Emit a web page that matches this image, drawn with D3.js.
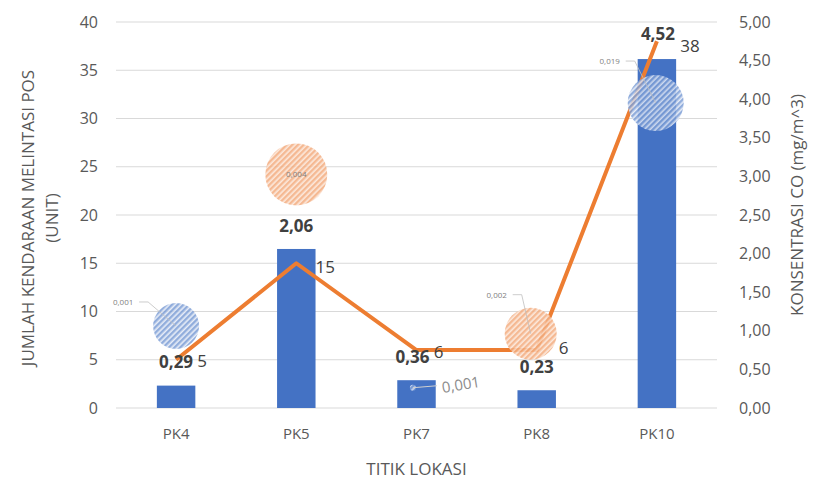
<!DOCTYPE html>
<html>
<head>
<meta charset="utf-8">
<script src="https://cdn.jsdelivr.net/npm/d3@7"></script>
<style>
  body { margin: 0; background: #fff; }
  svg text { font-family: "Open Sans", "Liberation Sans", sans-serif; }
</style>
</head>
<body>
<div id="chart"></div>
<script>
// data
let categories = ["PK4", "PK5", "PK7", "PK8", "PK10"];
let coValues = [0.29, 2.06, 0.36, 0.23, 4.52];        // bars, right axis
let coLabels = ["0,29", "2,06", "0,36", "0,23", "4,52"];
let vehicles = [5, 15, 6, 6, 38];                       // line, left axis
// bubble series (x in category units, y in left axis units)
let bubbleX = [0.0, 1.0, 1.97, 2.95, 3.99];
let bubbleY = [8.5, 24.2, 2.1, 7.7, 31.6];
let bubbleSize = [23, 31, 3, 26, 28];
let bubbleLabels = ["0,001", "0,004", "0,001", "0,002", "0,019"];
let bubbleColor = ["blue", "orange", "blue", "orange", "blue"];
let leftTicks = [0, 5, 10, 15, 20, 25, 30, 35, 40];
let rightTicks = [0, 0.5, 1, 1.5, 2, 2.5, 3, 3.5, 4, 4.5, 5];

let width = 814, height = 482;
let margin = {top: 22, right: 97, bottom: 74, left: 116};

let svg = d3.select("#chart").append("svg")
    .attr("width", width)
    .attr("height", height);

let defs = svg.append("defs");
let makeHatch = (id, bg, stroke) => {
    let p = defs.append("pattern")
        .attr("id", id)
        .attr("patternUnits", "userSpaceOnUse")
        .attr("width", 4)
        .attr("height", 4)
        .attr("patternTransform", "rotate(45)");
    p.append("rect").attr("width", 4).attr("height", 4).attr("fill", bg);
    p.append("rect").attr("width", 2.4).attr("height", 4).attr("fill", stroke);
};
makeHatch("hatch-blue", "#e4eaf6", "#7e9fd6");
makeHatch("hatch-orange", "#fce6d8", "#f3ad80");

let x = d3.scaleBand()
    .domain(categories)
    .range([margin.left, width - margin.right])
    .paddingInner(0.68)
    .paddingOuter(0.34);

let step = x.step();
let xNum = (v) => x(categories[0]) + x.bandwidth() / 2 + v * step;

let yLeft = d3.scaleLinear().domain([0, 40]).range([height - margin.bottom, margin.top]);
let yRight = d3.scaleLinear().domain([0, 5]).range([height - margin.bottom, margin.top]);

// gridlines
svg.append("g")
    .selectAll("line")
    .data(leftTicks)
    .enter().append("line")
    .attr("x1", margin.left)
    .attr("x2", width - margin.right)
    .attr("y1", (d) => yLeft(d))
    .attr("y2", (d) => yLeft(d))
    .attr("stroke", "#d9d9d9")
    .attr("stroke-width", 1);

// left axis
let leftAxis = svg.append("g")
    .attr("transform", "translate(" + margin.left + ",0)")
    .call(d3.axisLeft(yLeft).tickValues(leftTicks).tickSize(0).tickPadding(18));
leftAxis.select(".domain").remove();
leftAxis.selectAll("text").attr("fill", "#595959").style("font-size", "16px");

// right axis
let rightAxis = svg.append("g")
    .attr("transform", "translate(" + (width - margin.right) + ",0)")
    .call(d3.axisRight(yRight).tickValues(rightTicks).tickSize(0).tickPadding(22)
        .tickFormat((d) => d3.format(".2f")(d).replace(".", ",")));
rightAxis.select(".domain").remove();
rightAxis.selectAll("text").attr("fill", "#595959").style("font-size", "16px");

// bottom axis
let bottomAxis = svg.append("g")
    .attr("transform", "translate(0," + (height - margin.bottom) + ")")
    .call(d3.axisBottom(x).tickSize(0).tickPadding(20));
bottomAxis.select(".domain").remove();
bottomAxis.selectAll("text").attr("fill", "#595959").style("font-size", "15px");

// bars
svg.append("g")
    .selectAll("rect")
    .data(coValues)
    .enter().append("rect")
    .attr("x", (d, i) => x(categories[i]))
    .attr("y", (d) => yRight(d))
    .attr("width", x.bandwidth())
    .attr("height", (d) => yRight(0) - yRight(d))
    .attr("fill", "#4472c4");

// line
let line = d3.line()
    .x((d, i) => x(categories[i]) + x.bandwidth() / 2)
    .y((d) => yLeft(d));

svg.append("path")
    .datum(vehicles)
    .attr("d", line)
    .attr("fill", "none")
    .attr("stroke", "#ed7d31")
    .attr("stroke-width", 4)
    .attr("stroke-linejoin", "round");

// bubbles
svg.append("g")
    .selectAll("circle")
    .data(bubbleSize)
    .enter().append("circle")
    .attr("cx", (d, i) => xNum(bubbleX[i]))
    .attr("cy", (d, i) => yLeft(bubbleY[i]))
    .attr("r", (d) => d)
    .attr("fill", (d, i) => "url(#hatch-" + bubbleColor[i] + ")")
    .attr("opacity", 0.85);

// bubble labels with leader lines
let bubbleOffsets = [[-53, -21], [0, 0], [48, -3], [-34, -36], [-46, -39]];
let labelG = svg.append("g");
bubbleSize.forEach((r, i) => {
    let cx = xNum(bubbleX[i]), cy = yLeft(bubbleY[i]);
    let off = bubbleOffsets[i];
    let lx = cx + off[0], ly = cy + off[1];
    if (i === 0 || i === 3 || i === 4) {
        labelG.append("polyline")
            .attr("points", [[lx + 16, ly - 3], [lx + 25, ly - 3], [cx, cy]].join(" "))
            .attr("fill", "none")
            .attr("stroke", "#bfbfbf")
            .attr("stroke-width", 0.8);
    }
    if (i === 2) {
        labelG.append("line")
            .attr("x1", cx).attr("y1", cy)
            .attr("x2", lx - 24).attr("y2", ly + 1)
            .attr("stroke", "#d0d0d0")
            .attr("stroke-width", 1);
        labelG.append("text")
            .attr("transform", "translate(" + lx + "," + ly + ") rotate(-9)")
            .attr("text-anchor", "middle")
            .attr("dy", "0.35em")
            .attr("fill", "#8c8c8c")
            .style("font-size", "15px")
            .text(bubbleLabels[i]);
    } else {
        labelG.append("text")
            .attr("x", lx)
            .attr("y", ly)
            .attr("text-anchor", "middle")
            .attr("dy", i === 1 ? "0.35em" : "0")
            .attr("fill", "#7f7f7f")
            .style("font-size", "8px")
            .text(bubbleLabels[i]);
    }
});

// bar labels (bold)
let barLabelOffsets = [[0, -18], [0, -17], [-4, -17], [0, -17], [1, -19]];
svg.append("g")
    .selectAll("text")
    .data(coLabels)
    .enter().append("text")
    .attr("x", (d, i) => x(categories[i]) + x.bandwidth() / 2 + barLabelOffsets[i][0])
    .attr("y", (d, i) => yRight(coValues[i]) + barLabelOffsets[i][1])
    .attr("text-anchor", "middle")
    .attr("fill", "#404040")
    .style("font-size", "17px")
    .style("font-weight", "bold")
    .text((d) => d);

// line labels
let lineLabelOffsets = [[26, 7], [29, 10], [22, 8], [27, 4], [33, 11]];
svg.append("g")
    .selectAll("text")
    .data(vehicles)
    .enter().append("text")
    .attr("x", (d, i) => x(categories[i]) + x.bandwidth() / 2 + lineLabelOffsets[i][0])
    .attr("y", (d, i) => yLeft(d) + lineLabelOffsets[i][1])
    .attr("text-anchor", "middle")
    .attr("fill", "#404040")
    .style("font-size", "17px")
    .text((d) => d);

// axis titles
svg.append("text")
    .attr("transform", "translate(28,218) rotate(-90)")
    .attr("text-anchor", "middle")
    .attr("fill", "#595959")
    .style("font-size", "17px")
    .selectAll("tspan")
    .data(["JUMLAH KENDARAAN MELINTASI POS", "(UNIT)"])
    .enter().append("tspan")
    .attr("x", 0)
    .attr("dy", (d, i) => i === 0 ? "0.35em" : "1.4em")
    .text((d) => d);

svg.append("text")
    .attr("transform", "translate(797,205) rotate(-90)")
    .attr("text-anchor", "middle")
    .attr("dy", "0.35em")
    .attr("fill", "#595959")
    .style("font-size", "17px")
    .text("KONSENTRASI CO (mg/m^3)");

svg.append("text")
    .attr("x", (margin.left + width - margin.right) / 2)
    .attr("y", 475)
    .attr("text-anchor", "middle")
    .attr("fill", "#595959")
    .style("font-size", "17px")
    .text("TITIK LOKASI");
</script>
</body>
</html>
